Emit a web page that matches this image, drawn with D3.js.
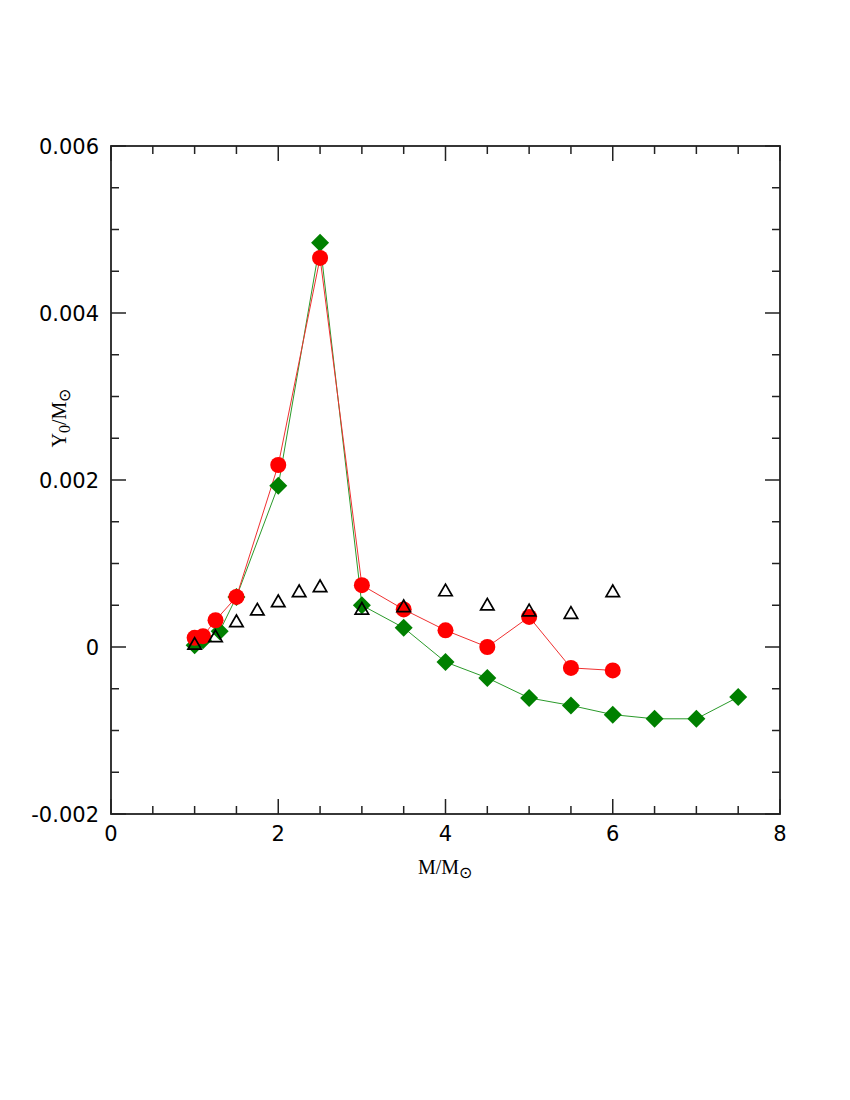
<!DOCTYPE html>
<html><head><meta charset="utf-8">
<script src="https://cdn.jsdelivr.net/npm/d3@7"></script>
<style>body{margin:0;background:#fff}</style>
</head><body>
<svg id="c" width="850" height="1100"></svg>
<script>
const redX = [1.0, 1.1, 1.25, 1.5, 2.0, 2.5, 3.0, 3.5, 4.0, 4.5, 5.0, 5.5, 6.0];
const redY = [0.00011, 0.00013, 0.00032, 0.00060, 0.00218, 0.00466, 0.00074, 0.00045, 0.00020, 0.00000, 0.00036, -0.00025, -0.00028];
const greenX = [1.0, 1.1, 1.3, 1.5, 2.0, 2.5, 3.0, 3.5, 4.0, 4.5, 5.0, 5.5, 6.0, 6.5, 7.0, 7.5];
const greenY = [0.00002, 0.00008, 0.00019, 0.00060, 0.00193, 0.00484, 0.00050, 0.00023, -0.00018, -0.00037, -0.00061, -0.00070, -0.00081, -0.00086, -0.00086, -0.00060];
const triX = [1.0, 1.25, 1.5, 1.75, 2.0, 2.25, 2.5, 3.0, 3.5, 4.0, 4.5, 5.0, 5.5, 6.0];
const triY = [0.00002, 0.00011, 0.00029, 0.00043, 0.00053, 0.00065, 0.00071, 0.00044, 0.00047, 0.00066, 0.00049, 0.00042, 0.00039, 0.00065];
const xTickLabels = [0, 2, 4, 6, 8];
const yTickLabels = [-0.002, 0, 0.002, 0.004, 0.006];

const svg = d3.select("#c");
const L = 111, R = 780, T = 146, B = 814;
const x = d3.scaleLinear().domain([0, 8]).range([L, R]);
const y = d3.scaleLinear().domain([-0.002, 0.006]).range([B, T]);
const ink = "#222";

// ticks
const xMinor = d3.range(0, 8.001, 0.5);
const yMinor = d3.range(-0.002, 0.00601, 0.0005);
const isMajX = v => Math.abs(v / 2 - Math.round(v / 2)) < 1e-6;
const isMajY = v => Math.abs(v / 0.002 - Math.round(v / 0.002)) < 1e-6;
const g = svg.append("g").attr("stroke", ink).attr("stroke-width", 1.5);
xMinor.forEach(v => {
  const len = isMajX(v) ? 15 : 8;
  g.append("line").attr("x1", x(v)).attr("x2", x(v)).attr("y1", B).attr("y2", B - len);
  g.append("line").attr("x1", x(v)).attr("x2", x(v)).attr("y1", T).attr("y2", T + len);
});
yMinor.forEach(v => {
  const len = isMajY(v) ? 15 : 8;
  g.append("line").attr("y1", y(v)).attr("y2", y(v)).attr("x1", L).attr("x2", L + len);
  g.append("line").attr("y1", y(v)).attr("y2", y(v)).attr("x1", R).attr("x2", R - len);
});
svg.append("rect").attr("x", L).attr("y", T).attr("width", R - L).attr("height", B - T)
  .attr("fill", "none").attr("stroke", ink).attr("stroke-width", 1.8);

// tick labels
const fmtY = v => v === 0 ? "0" : d3.format(".3f")(v).replace("−", "-");
svg.append("g").selectAll("text").data(xTickLabels).join("text")
  .attr("x", d => x(d)).attr("y", B + 27).attr("text-anchor", "middle")
  .attr("font-family", "DejaVu Sans, sans-serif").attr("font-size", 21)
  .attr("fill", "#000").text(d => d);
svg.append("g").selectAll("text").data(yTickLabels).join("text")
  .attr("x", L - 12).attr("y", d => y(d) + 7.5).attr("text-anchor", "end")
  .attr("font-family", "DejaVu Sans, sans-serif").attr("font-size", 21)
  .attr("fill", "#000").text(d => fmtY(d));

// axis labels
const xl = svg.append("text").attr("x", 445).attr("y", 874).attr("text-anchor", "middle")
  .attr("font-family", "Liberation Serif, Times New Roman, serif").attr("font-size", 20).attr("fill", "#000");
xl.append("tspan").text("M/M");
xl.append("tspan").attr("font-size", 16).attr("dy", 4).text("⊙");
const yl = svg.append("text").attr("transform", "translate(66,418) rotate(-90)").attr("text-anchor", "middle")
  .attr("font-family", "Liberation Serif, Times New Roman, serif").attr("font-size", 20).attr("fill", "#000");
yl.append("tspan").text("Y");
yl.append("tspan").attr("font-size", 16).attr("dy", 4).text("0");
yl.append("tspan").attr("dy", -4).text("/M");
yl.append("tspan").attr("font-size", 16).attr("dy", 4).text("⊙");

const line = d3.line().x(d => x(d[0])).y(d => y(d[1]));
const red = redX.map((v, i) => [v, redY[i]]);
const green = greenX.map((v, i) => [v, greenY[i]]);
const tri = triX.map((v, i) => [v, triY[i]]);

svg.append("path").datum(green).attr("d", line).attr("fill", "none").attr("stroke", "#2a9a2a").attr("stroke-width", 1);
svg.append("path").datum(red).attr("d", line).attr("fill", "none").attr("stroke", "#f03030").attr("stroke-width", 1);

svg.append("g").selectAll("path").data(green).join("path")
  .attr("d", d3.symbol().type(d3.symbolSquare).size(162))
  .attr("transform", d => `translate(${x(d[0])},${y(d[1])}) rotate(45)`)
  .attr("fill", "#008000");
svg.append("g").selectAll("circle").data(red).join("circle")
  .attr("cx", d => x(d[0])).attr("cy", d => y(d[1])).attr("r", 8)
  .attr("fill", "#ff0000");

// triangles on top
svg.append("g").selectAll("path").data(tri).join("path")
  .attr("d", d3.symbol().type(d3.symbolTriangle).size(78))
  .attr("transform", d => `translate(${x(d[0])},${y(d[1])})`)
  .attr("fill", "none").attr("stroke", "#000").attr("stroke-width", 1.7);
</script>
</body></html>
